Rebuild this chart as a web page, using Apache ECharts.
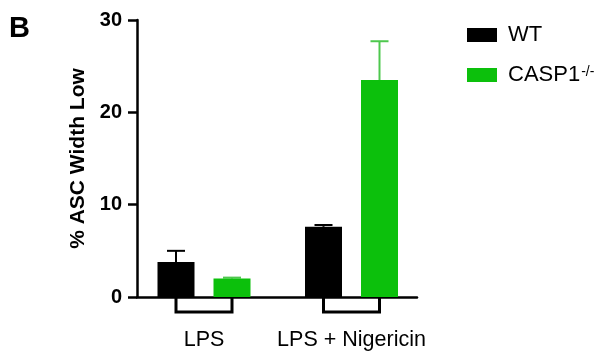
<!DOCTYPE html>
<html><head><meta charset="utf-8">
<script src="https://cdn.jsdelivr.net/npm/echarts@6/dist/echarts.min.js"></script>
<style>html,body{margin:0;padding:0;background:#fff}#c{width:603px;height:354px}</style>
</head><body><div id="c"></div>
<script>
var categories = ['LPS', 'LPS + Nigericin'];
var wtMean = [3.8, 7.6];
var wtErr = [1.2, 0.2];
var caspMean = [2.0, 23.5];
var caspErr = [0.1, 4.2];
var yTicks = [0, 10, 20, 30];

var FONT = '"Liberation Sans", Arial, Helvetica, sans-serif';
var BAR_W = 37, GAP = 19, OFF = (BAR_W + GAP) / 2;
var BLACK = '#000000', GREEN = '#0cc00c', GREEN_ERR = '#4ec84e';

function errData(mean, err) { return mean.map(function (m, i) { return [i, m, err[i]]; }); }
function errRender(offset, color, lw) {
  return function (params, api) {
    var base = api.coord([api.value(0), api.value(1)]);
    var top = api.coord([api.value(0), api.value(1) + api.value(2)]);
    var x = base[0] + offset;
    return { type: 'group', children: [
      { type: 'line', shape: { x1: x, y1: base[1], x2: x, y2: top[1] }, style: { stroke: color, lineWidth: lw } },
      { type: 'line', shape: { x1: x - 9, y1: top[1], x2: x + 9, y2: top[1] }, style: { stroke: color, lineWidth: lw } }
    ]};
  };
}

var chart = echarts.init(document.getElementById('c'), null, { renderer: 'canvas' });
chart.setOption({
  animation: false,
  textStyle: { fontFamily: FONT },
  graphic: [{ type: 'text', left: 9, top: 14, style: { text: 'B', font: 'bold 29px ' + FONT, fill: '#000' } }],
  legend: {
    orient: 'vertical', left: 462, top: 19, itemWidth: 30, itemHeight: 14, itemGap: 18,
    icon: 'rect',
    data: ['WT', 'CASP1'],
    formatter: function (n) { return n === 'CASP1' ? '{a|CASP1}{s|-/-}' : '{a|' + n + '}'; },
    textStyle: { color: '#000', fontFamily: FONT, padding: [0, 0, 0, 6],
      rich: { a: { fontSize: 22, lineHeight: 20, fontFamily: FONT, color: '#000' }, s: { fontSize: 14, lineHeight: 20, fontFamily: FONT, color: '#000', verticalAlign: 'top', padding: [0, 0, 12, 1] } } }
  },
  grid: [
    { left: 137, width: 280, top: 20, height: 277 },
    { left: 130.25, width: 295, top: 20, height: 277 }
  ],
  xAxis: [
    { gridIndex: 0, type: 'value', min: 0, max: 1, axisLine: { show: true, onZero: false, lineStyle: { color: '#000', width: 2.5 } },
      axisTick: { show: false }, axisLabel: { show: false }, splitLine: { show: false } },
    { gridIndex: 1, type: 'category', data: categories, axisLine: { show: false }, axisTick: { show: false },
      axisLabel: { interval: 0, margin: 32, fontSize: 21.5, color: '#000', fontFamily: FONT } }
  ],
  yAxis: [
    { gridIndex: 0, type: 'value', min: 0, max: 30, interval: 10,
      name: '% ASC Width Low', nameLocation: 'middle', nameGap: 48,
      nameTextStyle: { fontSize: 21, fontWeight: 'bold', color: '#000', fontFamily: FONT },
      axisLine: { show: true, lineStyle: { color: '#000', width: 2.5 } },
      axisTick: { show: true, length: 9, lineStyle: { color: '#000', width: 2.5 } },
      axisLabel: { margin: 15, fontSize: 20, fontWeight: 'bold', color: '#000', fontFamily: FONT },
      splitLine: { show: false } },
    { gridIndex: 1, type: 'value', min: 0, max: 30, interval: 10, show: false }
  ],
  series: [
    { name: 'WT', type: 'bar', xAxisIndex: 1, yAxisIndex: 1, data: wtMean, barWidth: BAR_W, barGap: (GAP / BAR_W * 100) + '%', itemStyle: { color: BLACK } },
    { name: 'CASP1', type: 'bar', xAxisIndex: 1, yAxisIndex: 1, data: caspMean, barWidth: BAR_W, barGap: (GAP / BAR_W * 100) + '%', itemStyle: { color: GREEN } },
    { type: 'custom', xAxisIndex: 1, yAxisIndex: 1, data: errData(wtMean, wtErr), renderItem: errRender(-OFF, BLACK, 2), clip: false, z: 1 },
    { type: 'custom', xAxisIndex: 1, yAxisIndex: 1, data: errData(caspMean, caspErr), renderItem: errRender(OFF, GREEN_ERR, 2), clip: false, z: 1 },
    { type: 'custom', xAxisIndex: 1, yAxisIndex: 1, data: categories.map(function (c, i) { return [i, 0]; }), clip: false,
      renderItem: function (params, api) {
        var c = api.coord([api.value(0), 0]);
        return { type: 'polyline', shape: { points: [[c[0] - OFF, c[1]], [c[0] - OFF, c[1] + 15], [c[0] + OFF, c[1] + 15], [c[0] + OFF, c[1]]] },
          style: { stroke: '#000', lineWidth: 3, fill: null } };
      } }
  ]
});
</script></body></html>
